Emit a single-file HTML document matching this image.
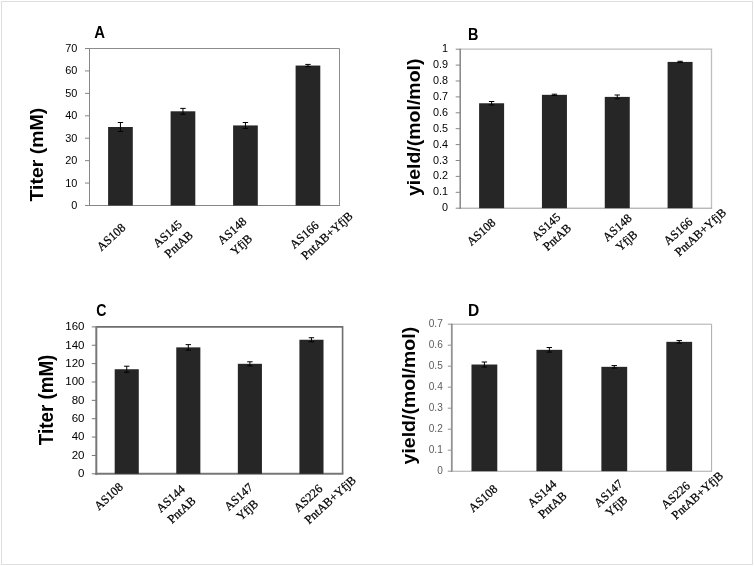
<!DOCTYPE html>
<html lang="en"><head><meta charset="utf-8"><title>Figure</title>
<style>html,body{margin:0;padding:0;background:#fff}body{width:754px;height:566px;overflow:hidden}svg{display:block}.tk{font-family:"Liberation Sans",sans-serif}.lb{font-family:"Liberation Serif",serif;fill:#000;stroke:#000;stroke-width:.25px}.bd{font-family:"Liberation Sans",sans-serif;font-weight:bold;fill:#000}</style></head><body>
<svg width="754" height="566" viewBox="0 0 754 566">
<rect x="0" y="0" width="754" height="566" fill="#fff"/>
<rect x="1.5" y="1.5" width="751" height="563" fill="none" stroke="#dedede" stroke-width="1"/>
<g id="chartA">
<path d="M89.5 48.5H339.5V205.5" fill="none" stroke="#8c8c8c" stroke-width="1"/>
<line x1="89.0" y1="205.5" x2="340.0" y2="205.5" stroke="#868686" stroke-width="1"/>
<line x1="85.0" y1="205.5" x2="89.5" y2="205.5" stroke="#868686" stroke-width="1"/>
<rect x="108.10" y="127.00" width="24.7" height="78.50" fill="#262626"/>
<path d="M120.45 122.51V131.49M117.75 122.51H123.15M117.75 131.49H123.15" stroke="#000" stroke-width="1" fill="none"/>
<rect x="170.60" y="111.30" width="24.7" height="94.20" fill="#262626"/>
<path d="M182.95 108.38V114.22M180.25 108.38H185.65M180.25 114.22H185.65" stroke="#000" stroke-width="1" fill="none"/>
<rect x="233.10" y="125.43" width="24.7" height="80.07" fill="#262626"/>
<path d="M245.45 122.51V128.35M242.75 122.51H248.15M242.75 128.35H248.15" stroke="#000" stroke-width="1" fill="none"/>
<rect x="295.60" y="65.55" width="24.7" height="139.95" fill="#262626"/>
<path d="M307.95 64.42V66.67M305.25 64.42H310.65M305.25 66.67H310.65" stroke="#000" stroke-width="1" fill="none"/>
<line x1="89.5" y1="48.0" x2="89.5" y2="206.0" stroke="#868686" stroke-width="1"/>
<text class="tk" x="77.3" y="208.92" font-size="10.9" fill="#000" text-anchor="end">0</text>
<line x1="85.0" y1="183.07" x2="89.5" y2="183.07" stroke="#868686" stroke-width="1"/>
<text class="tk" x="77.3" y="186.50" font-size="10.9" fill="#000" text-anchor="end">10</text>
<line x1="85.0" y1="160.64" x2="89.5" y2="160.64" stroke="#868686" stroke-width="1"/>
<text class="tk" x="77.3" y="164.07" font-size="10.9" fill="#000" text-anchor="end">20</text>
<line x1="85.0" y1="138.21" x2="89.5" y2="138.21" stroke="#868686" stroke-width="1"/>
<text class="tk" x="77.3" y="141.64" font-size="10.9" fill="#000" text-anchor="end">30</text>
<line x1="85.0" y1="115.79" x2="89.5" y2="115.79" stroke="#868686" stroke-width="1"/>
<text class="tk" x="77.3" y="119.21" font-size="10.9" fill="#000" text-anchor="end">40</text>
<line x1="85.0" y1="93.36" x2="89.5" y2="93.36" stroke="#868686" stroke-width="1"/>
<text class="tk" x="77.3" y="96.78" font-size="10.9" fill="#000" text-anchor="end">50</text>
<line x1="85.0" y1="70.93" x2="89.5" y2="70.93" stroke="#868686" stroke-width="1"/>
<text class="tk" x="77.3" y="74.35" font-size="10.9" fill="#000" text-anchor="end">60</text>
<line x1="85.0" y1="48.50" x2="89.5" y2="48.50" stroke="#868686" stroke-width="1"/>
<text class="tk" x="77.3" y="51.92" font-size="10.9" fill="#000" text-anchor="end">70</text>
<text class="bd" transform="translate(94.3 37.9) scale(0.91 1)" font-size="16.4">A</text>
<text class="bd fit" id="ytA" transform="translate(43.1 201.5) rotate(-90) scale(1.035 1)" font-size="18.8">Titer (mM)</text>
</g>
<g id="chartB">
<path d="M460.2 49.2H711.5V208.2" fill="none" stroke="#bfbfbf" stroke-width="1.3"/>
<line x1="459.45" y1="208.2" x2="712.15" y2="208.2" stroke="#9a9a9a" stroke-width="1"/>
<line x1="455.7" y1="208.2" x2="460.2" y2="208.2" stroke="#868686" stroke-width="1"/>
<rect x="479.11" y="103.26" width="25" height="104.94" fill="#262626"/>
<path d="M491.61 101.51V105.01M488.91 101.51H494.31M488.91 105.01H494.31" stroke="#000" stroke-width="1" fill="none"/>
<rect x="541.94" y="94.83" width="25" height="113.37" fill="#262626"/>
<path d="M554.44 94.20V95.47M551.74 94.20H557.14M551.74 95.47H557.14" stroke="#000" stroke-width="1" fill="none"/>
<rect x="604.76" y="96.90" width="25" height="111.30" fill="#262626"/>
<path d="M617.26 94.99V98.81M614.56 94.99H619.96M614.56 98.81H619.96" stroke="#000" stroke-width="1" fill="none"/>
<rect x="667.59" y="61.92" width="25" height="146.28" fill="#262626"/>
<path d="M680.09 61.28V62.56M677.39 61.28H682.79M677.39 62.56H682.79" stroke="#000" stroke-width="1" fill="none"/>
<line x1="460.2" y1="48.7" x2="460.2" y2="208.7" stroke="#868686" stroke-width="1.5"/>
<text class="tk" x="448" y="211.29" font-size="10.8" fill="#000" text-anchor="end">0</text>
<line x1="455.7" y1="192.30" x2="460.2" y2="192.30" stroke="#868686" stroke-width="1"/>
<text class="tk" x="448" y="195.39" font-size="10.8" fill="#000" text-anchor="end">0.1</text>
<line x1="455.7" y1="176.40" x2="460.2" y2="176.40" stroke="#868686" stroke-width="1"/>
<text class="tk" x="448" y="179.49" font-size="10.8" fill="#000" text-anchor="end">0.2</text>
<line x1="455.7" y1="160.50" x2="460.2" y2="160.50" stroke="#868686" stroke-width="1"/>
<text class="tk" x="448" y="163.59" font-size="10.8" fill="#000" text-anchor="end">0.3</text>
<line x1="455.7" y1="144.60" x2="460.2" y2="144.60" stroke="#868686" stroke-width="1"/>
<text class="tk" x="448" y="147.69" font-size="10.8" fill="#000" text-anchor="end">0.4</text>
<line x1="455.7" y1="128.70" x2="460.2" y2="128.70" stroke="#868686" stroke-width="1"/>
<text class="tk" x="448" y="131.79" font-size="10.8" fill="#000" text-anchor="end">0.5</text>
<line x1="455.7" y1="112.80" x2="460.2" y2="112.80" stroke="#868686" stroke-width="1"/>
<text class="tk" x="448" y="115.89" font-size="10.8" fill="#000" text-anchor="end">0.6</text>
<line x1="455.7" y1="96.90" x2="460.2" y2="96.90" stroke="#868686" stroke-width="1"/>
<text class="tk" x="448" y="99.99" font-size="10.8" fill="#000" text-anchor="end">0.7</text>
<line x1="455.7" y1="81.00" x2="460.2" y2="81.00" stroke="#868686" stroke-width="1"/>
<text class="tk" x="448" y="84.09" font-size="10.8" fill="#000" text-anchor="end">0.8</text>
<line x1="455.7" y1="65.10" x2="460.2" y2="65.10" stroke="#868686" stroke-width="1"/>
<text class="tk" x="448" y="68.19" font-size="10.8" fill="#000" text-anchor="end">0.9</text>
<line x1="455.7" y1="49.20" x2="460.2" y2="49.20" stroke="#868686" stroke-width="1"/>
<text class="tk" x="448" y="52.29" font-size="10.8" fill="#000" text-anchor="end">1</text>
<text class="bd" transform="translate(468.1 39.9) scale(0.88 1)" font-size="16.4">B</text>
<text class="bd fit" id="ytB" transform="translate(419.7 196.1) rotate(-90) scale(1.06 1)" font-size="18.4">yield/(mol/mol)</text>
</g>
<g id="chartC">
<path d="M96.3 326.9H342.6V473.8" fill="none" stroke="#6e6e6e" stroke-width="1.6"/>
<line x1="95.3" y1="473.8" x2="343.40000000000003" y2="473.8" stroke="#777" stroke-width="2"/>
<line x1="91.8" y1="473.8" x2="96.3" y2="473.8" stroke="#777" stroke-width="1"/>
<rect x="114.69" y="369.23" width="24.1" height="104.57" fill="#262626"/>
<path d="M126.74 366.20V372.26M124.04 366.20H129.44M124.04 372.26H129.44" stroke="#000" stroke-width="1" fill="none"/>
<rect x="176.26" y="347.37" width="24.1" height="126.43" fill="#262626"/>
<path d="M188.31 344.62V350.13M185.61 344.62H191.01M185.61 350.13H191.01" stroke="#000" stroke-width="1" fill="none"/>
<rect x="237.84" y="363.81" width="24.1" height="109.99" fill="#262626"/>
<path d="M249.89 361.79V365.83M247.19 361.79H252.59M247.19 365.83H252.59" stroke="#000" stroke-width="1" fill="none"/>
<rect x="299.41" y="339.75" width="24.1" height="134.05" fill="#262626"/>
<path d="M311.46 337.73V341.77M308.76 337.73H314.16M308.76 341.77H314.16" stroke="#000" stroke-width="1" fill="none"/>
<line x1="96.3" y1="326.4" x2="96.3" y2="474.8" stroke="#777" stroke-width="2"/>
<text class="tk" x="84.5" y="477.04" font-size="11.5" fill="#000" text-anchor="end">0</text>
<line x1="91.8" y1="455.44" x2="96.3" y2="455.44" stroke="#777" stroke-width="1"/>
<text class="tk" x="84.5" y="458.68" font-size="11.5" fill="#000" text-anchor="end">20</text>
<line x1="91.8" y1="437.07" x2="96.3" y2="437.07" stroke="#777" stroke-width="1"/>
<text class="tk" x="84.5" y="440.31" font-size="11.5" fill="#000" text-anchor="end">40</text>
<line x1="91.8" y1="418.71" x2="96.3" y2="418.71" stroke="#777" stroke-width="1"/>
<text class="tk" x="84.5" y="421.95" font-size="11.5" fill="#000" text-anchor="end">60</text>
<line x1="91.8" y1="400.35" x2="96.3" y2="400.35" stroke="#777" stroke-width="1"/>
<text class="tk" x="84.5" y="403.59" font-size="11.5" fill="#000" text-anchor="end">80</text>
<line x1="91.8" y1="381.99" x2="96.3" y2="381.99" stroke="#777" stroke-width="1"/>
<text class="tk" x="84.5" y="385.23" font-size="11.5" fill="#000" text-anchor="end">100</text>
<line x1="91.8" y1="363.62" x2="96.3" y2="363.62" stroke="#777" stroke-width="1"/>
<text class="tk" x="84.5" y="366.87" font-size="11.5" fill="#000" text-anchor="end">120</text>
<line x1="91.8" y1="345.26" x2="96.3" y2="345.26" stroke="#777" stroke-width="1"/>
<text class="tk" x="84.5" y="348.50" font-size="11.5" fill="#000" text-anchor="end">140</text>
<line x1="91.8" y1="326.90" x2="96.3" y2="326.90" stroke="#777" stroke-width="1"/>
<text class="tk" x="84.5" y="330.14" font-size="11.5" fill="#000" text-anchor="end">160</text>
<text class="bd" transform="translate(96.3 316.0) scale(0.86 1)" font-size="16.4">C</text>
<text class="bd fit" id="ytC" transform="translate(53.0 445.2) rotate(-90) scale(0.975 1)" font-size="19.3">Titer (mM)</text>
</g>
<g id="chartD">
<path d="M451.8 324.2H711.6V471.2" fill="none" stroke="#ababab" stroke-width="1"/>
<line x1="450.90000000000003" y1="471.2" x2="712.1" y2="471.2" stroke="#a8a8a8" stroke-width="1.1"/>
<line x1="447.8" y1="471.2" x2="451.8" y2="471.2" stroke="#929292" stroke-width="1"/>
<rect x="471.48" y="364.52" width="25.8" height="106.68" fill="#262626"/>
<path d="M484.38 362.00V367.04M481.68 362.00H487.08M481.68 367.04H487.08" stroke="#000" stroke-width="1" fill="none"/>
<rect x="536.43" y="349.82" width="25.8" height="121.38" fill="#262626"/>
<path d="M549.33 347.51V352.13M546.62 347.51H552.03M546.62 352.13H552.03" stroke="#000" stroke-width="1" fill="none"/>
<rect x="601.38" y="366.83" width="25.8" height="104.37" fill="#262626"/>
<path d="M614.27 365.57V368.09M611.57 365.57H616.98M611.57 368.09H616.98" stroke="#000" stroke-width="1" fill="none"/>
<rect x="666.33" y="341.84" width="25.8" height="129.36" fill="#262626"/>
<path d="M679.23 340.58V343.10M676.52 340.58H681.93M676.52 343.10H681.93" stroke="#000" stroke-width="1" fill="none"/>
<line x1="451.8" y1="323.7" x2="451.8" y2="471.75" stroke="#929292" stroke-width="1.8"/>
<text class="tk" x="442.8" y="473.54" font-size="10.1" fill="#5c5c5c" text-anchor="end">0</text>
<line x1="447.8" y1="450.20" x2="451.8" y2="450.20" stroke="#929292" stroke-width="1"/>
<text class="tk" x="442.8" y="452.54" font-size="10.1" fill="#5c5c5c" text-anchor="end">0.1</text>
<line x1="447.8" y1="429.20" x2="451.8" y2="429.20" stroke="#929292" stroke-width="1"/>
<text class="tk" x="442.8" y="431.54" font-size="10.1" fill="#5c5c5c" text-anchor="end">0.2</text>
<line x1="447.8" y1="408.20" x2="451.8" y2="408.20" stroke="#929292" stroke-width="1"/>
<text class="tk" x="442.8" y="410.54" font-size="10.1" fill="#5c5c5c" text-anchor="end">0.3</text>
<line x1="447.8" y1="387.20" x2="451.8" y2="387.20" stroke="#929292" stroke-width="1"/>
<text class="tk" x="442.8" y="389.54" font-size="10.1" fill="#5c5c5c" text-anchor="end">0.4</text>
<line x1="447.8" y1="366.20" x2="451.8" y2="366.20" stroke="#929292" stroke-width="1"/>
<text class="tk" x="442.8" y="368.54" font-size="10.1" fill="#5c5c5c" text-anchor="end">0.5</text>
<line x1="447.8" y1="345.20" x2="451.8" y2="345.20" stroke="#929292" stroke-width="1"/>
<text class="tk" x="442.8" y="347.54" font-size="10.1" fill="#5c5c5c" text-anchor="end">0.6</text>
<line x1="447.8" y1="324.20" x2="451.8" y2="324.20" stroke="#929292" stroke-width="1"/>
<text class="tk" x="442.8" y="326.54" font-size="10.1" fill="#5c5c5c" text-anchor="end">0.7</text>
<text class="bd" transform="translate(468.1 316.0) scale(0.95 1)" font-size="16.4">D</text>
<text class="bd fit" id="ytD" transform="translate(414.6 464.4) rotate(-90) scale(1.06 1)" font-size="18.4">yield/(mol/mol)</text>
</g>
<text class="lb fit" id="A1" transform="translate(101.20 251.40) rotate(-42)" font-size="12.2">AS108</text>
<text class="lb fit" id="A2a" transform="translate(157.60 248.10) rotate(-42)" font-size="12.2">AS145</text>
<text class="lb fit" id="A2b" transform="translate(169.10 258.40) rotate(-42)" font-size="12.2">PntAB</text>
<text class="lb fit" id="A3a" transform="translate(222.10 245.10) rotate(-42)" font-size="12.2">AS148</text>
<text class="lb fit" id="A3b" transform="translate(234.90 255.90) rotate(-42)" font-size="12.2">YfjB</text>
<text class="lb fit" id="A4a" transform="translate(294.30 249.20) rotate(-42)" font-size="12.2">AS166</text>
<text class="lb fit" id="A4b" transform="translate(305.70 260.20) rotate(-42)" font-size="12.2">PntAB+YfjB</text>
<text class="lb fit" id="B1" transform="translate(471.20 246.30) rotate(-42)" font-size="12.2">AS108</text>
<text class="lb fit" id="B2a" transform="translate(536.20 240.90) rotate(-42)" font-size="12.2">AS145</text>
<text class="lb fit" id="B2b" transform="translate(547.40 251.30) rotate(-42)" font-size="12.2">PntAB</text>
<text class="lb fit" id="B3a" transform="translate(607.30 241.90) rotate(-42)" font-size="12.2">AS148</text>
<text class="lb fit" id="B3b" transform="translate(620.30 251.80) rotate(-42)" font-size="12.2">YfjB</text>
<text class="lb fit" id="B4a" transform="translate(668.10 245.60) rotate(-42)" font-size="12.2">AS166</text>
<text class="lb fit" id="B4b" transform="translate(679.20 256.80) rotate(-42)" font-size="12.2">PntAB+YfjB</text>
<text class="lb fit" id="C1" transform="translate(98.70 510.70) rotate(-42)" font-size="12.2">AS108</text>
<text class="lb fit" id="C2a" transform="translate(160.70 512.90) rotate(-42)" font-size="12.2">AS144</text>
<text class="lb fit" id="C2b" transform="translate(172.00 524.10) rotate(-42)" font-size="12.2">PntAB</text>
<text class="lb fit" id="C3a" transform="translate(228.70 511.20) rotate(-42)" font-size="12.2">AS147</text>
<text class="lb fit" id="C3b" transform="translate(240.90 521.10) rotate(-42)" font-size="12.2">YfjB</text>
<text class="lb fit" id="C4a" transform="translate(298.20 512.40) rotate(-42)" font-size="12.2">AS226</text>
<text class="lb fit" id="C4b" transform="translate(308.90 524.50) rotate(-42)" font-size="12.2">PntAB+YfjB</text>
<text class="lb fit" id="D1" transform="translate(473.10 512.70) rotate(-42)" font-size="12.2">AS108</text>
<text class="lb fit" id="D2a" transform="translate(532.10 507.90) rotate(-42)" font-size="12.2">AS144</text>
<text class="lb fit" id="D2b" transform="translate(542.80 519.10) rotate(-42)" font-size="12.2">PntAB</text>
<text class="lb fit" id="D3a" transform="translate(598.40 507.70) rotate(-42)" font-size="12.2">AS147</text>
<text class="lb fit" id="D3b" transform="translate(610.10 517.30) rotate(-42)" font-size="12.2">YfjB</text>
<text class="lb fit" id="D4a" transform="translate(665.60 509.50) rotate(-42)" font-size="12.2">AS226</text>
<text class="lb fit" id="D4b" transform="translate(676.10 519.90) rotate(-42)" font-size="12.2">PntAB+YfjB</text>
</svg></body></html>
